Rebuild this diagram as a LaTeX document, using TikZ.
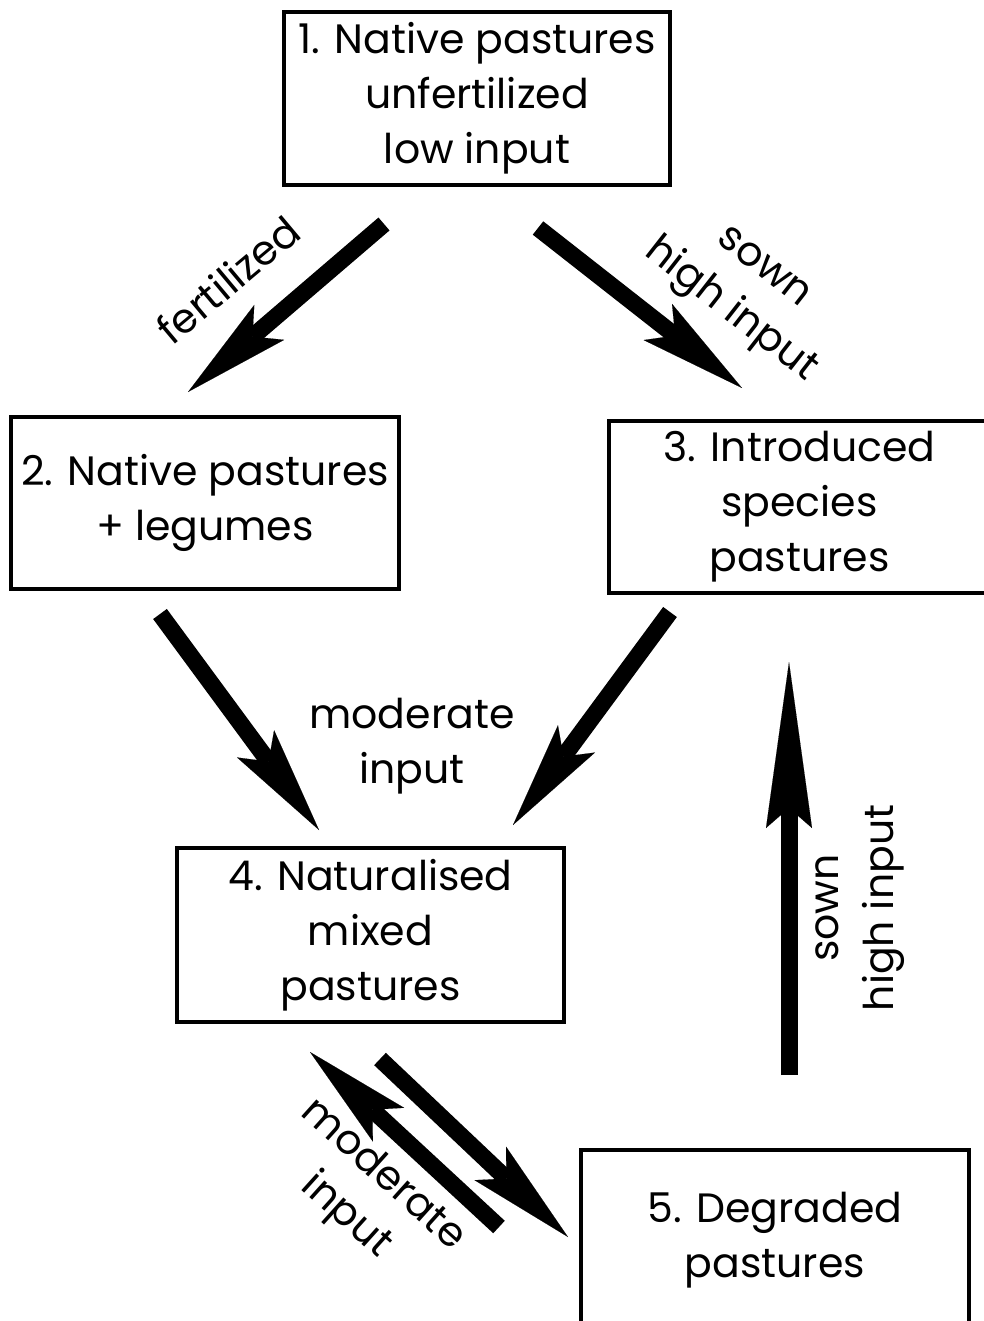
\documentclass[tikz,border=0pt]{standalone}
\usepackage{fontspec}
\setmainfont{Poppins}
\usetikzlibrary{arrows.meta}
\begin{document}
\begin{tikzpicture}[x=1pt,y=-1pt,
  box/.style={draw, line width=3.5pt, inner sep=0pt, align=center, font=\fontsize{41}{55}\selectfont},
  lbl/.style={align=center, inner sep=0pt, font=\fontsize{41}{55}\selectfont},
  bigarrow/.style={line width=17pt, -{Stealth[length=107pt,width=46pt,inset=22pt,line width=0.1pt]}},
  longarrow/.style={line width=17pt, -{Stealth[length=166pt,width=46pt,inset=20pt,line width=0.1pt]}}
]
\useasboundingbox (0,0) rectangle (984,1321);

% boxes
\node[box, minimum width=386pt, minimum height=173pt] (n1) at (477,98.5) {1. Native pastures\\unfertilized\\low input};
\node[box, minimum width=388pt, minimum height=172pt] (n2) at (205,503) {2. Native pastures\\+ legumes};
\node[box, minimum width=381pt, minimum height=172pt] (n3) at (799.5,507) {3. Introduced\\species\\pastures};
\node[box, minimum width=387pt, minimum height=174pt] (n4) at (370.5,935) {4. Naturalised\\mixed\\pastures};
\node[box, minimum width=388pt, minimum height=180pt] (n5) at (775,1240) {5. Degraded\\pastures};

% arrow end points
\coordinate (a1s) at (384,224);  \coordinate (a1e) at (188,392);
\coordinate (a2s) at (538,228);  \coordinate (a2e) at (742,388);
\coordinate (a3s) at (160,614);  \coordinate (a3e) at (319,830);
\coordinate (a4s) at (670,612);  \coordinate (a4e) at (513,825);
\coordinate (a5s) at (789,1075); \coordinate (a5e) at (789,662);
\coordinate (a6s) at (380,1059); \coordinate (a6e) at (568,1237);
\coordinate (a7s) at (499,1227); \coordinate (a7e) at (310,1052);

\draw[bigarrow] (a1s) -- (a1e);
\draw[bigarrow] (a2s) -- (a2e);
\draw[bigarrow] (a3s) -- (a3e);
\draw[bigarrow] (a4s) -- (a4e);
\draw[longarrow] (a5s) -- (a5e);
\draw[bigarrow] (a6s) -- (a6e);
\draw[bigarrow] (a7s) -- (a7e);

% labels
\node[lbl, rotate=40] (l1) at (228,280) {fertilized};
\node[lbl, rotate=-38] (l2) at (745,292) {sown\\high input};
\node[lbl] (l3) at (412,746) {moderate\\input};
\node[lbl, rotate=90] (l4) at (860,908) {sown\\high input};
\node[lbl, rotate=-42] (l5) at (364,1196) {moderate\\input};
\end{tikzpicture}
\end{document}
